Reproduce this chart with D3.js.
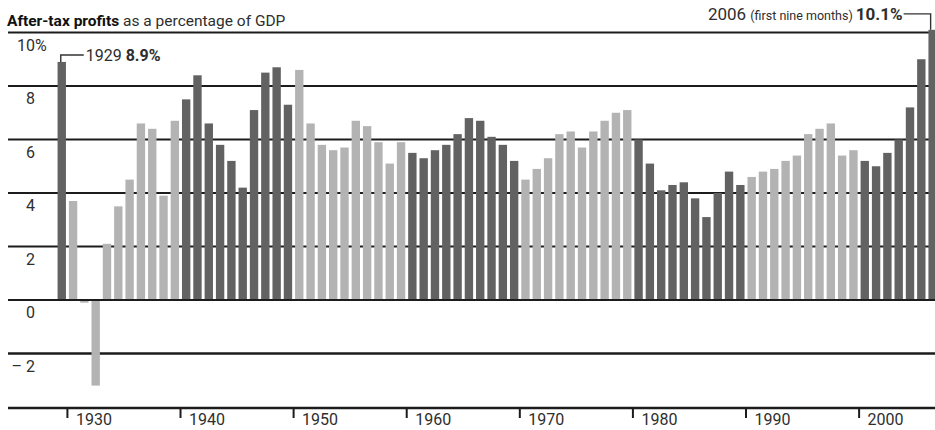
<!DOCTYPE html>
<html>
<head>
<meta charset="utf-8">
<script src="https://cdn.jsdelivr.net/npm/d3@7"></script>
<style>
  body { margin: 0; background: #fff; }
  svg { display: block; font-family: Roboto, "DejaVu Sans", sans-serif; }
</style>
</head>
<body>
<div id="chart"></div>
<script>

//Data: after-tax profits as % of GDP, one value per year 1929-2006
var years = d3.range(1929, 2007);
var profits = [
    8.9, 3.7, -0.1, -3.2, 2.1, 3.5, 4.5, 6.6, 6.4, 3.9, 6.7,
    7.5, 8.4, 6.6, 5.8, 5.2, 4.2, 7.1, 8.5, 8.7, 7.3,
    8.6, 6.6, 5.8, 5.6, 5.7, 6.7, 6.5, 5.9, 5.1, 5.9,
    5.5, 5.3, 5.6, 5.8, 6.2, 6.8, 6.7, 6.1, 5.8, 5.2,
    4.5, 4.9, 5.3, 6.2, 6.3, 5.7, 6.3, 6.7, 7.0, 7.1,
    6.0, 5.1, 4.1, 4.3, 4.4, 3.8, 3.1, 4.0, 4.8, 4.3,
    4.6, 4.8, 4.9, 5.2, 5.4, 6.2, 6.4, 6.6, 5.4, 5.6,
    5.2, 5.0, 5.5, 6.0, 7.2, 9.0, 10.1
];
var yTicks = [-2, 0, 2, 4, 6, 8, 10];
var yTickLabels = ["– 2", "0", "2", "4", "6", "8", "10"];
var xTicks = [1930, 1940, 1950, 1960, 1970, 1980, 1990, 2000];

var data = years.map((y, i) => ({year: y, value: profits[i]}));

//Size
var width = 935, height = 430;
var lineLeft = 8;
var axisY = 408;

var darkColor = "#626262", lightColor = "#b3b3b3", lineColor = "#1c1c1c", textColor = "#2e2e2e";

var svg = d3.select("#chart")
    .append("svg")
    .attr("width", width)
    .attr("height", height);

svg.append("rect")
    .attr("width", width)
    .attr("height", height)
    .attr("fill", "#fff");

//Scales
var step = 11.31;
var xScale = d3.scaleBand()
    .domain(years)
    .range([56.1, 56.1 + years.length * step])
    .paddingInner(0.26)
    .paddingOuter(0.13);

var yScale = d3.scaleLinear()
    .domain([-2, 10])
    .range([353.5, 32.5]);

var gap = (xScale.step() - xScale.bandwidth()) / 2;

//Gridlines (behind bars)
var grid = svg.append("g").attr("class", "grid");

grid.selectAll("line")
    .data(yTicks)
    .enter()
    .append("line")
        .attr("x1", lineLeft)
        .attr("x2", width)
        .attr("y1", d => yScale(d))
        .attr("y2", d => yScale(d))
        .attr("stroke", lineColor)
        .attr("stroke-width", d => d == -2 ? 2.4 : 2);

//Bars
svg.append("g")
    .attr("class", "bars")
    .selectAll("rect")
    .data(data)
    .enter()
    .append("rect")
        .attr("x", d => xScale(d.year))
        .attr("y", d => yScale(Math.max(0, d.value)))
        .attr("width", xScale.bandwidth())
        .attr("height", d => Math.abs(yScale(d.value) - yScale(0)))
        .attr("fill", d => Math.floor(d.year / 10) % 2 == 0 ? darkColor : lightColor);

//Zero line on top of bar bottoms
svg.append("line")
    .attr("x1", lineLeft)
    .attr("x2", width)
    .attr("y1", yScale(0))
    .attr("y2", yScale(0))
    .attr("stroke", lineColor)
    .attr("stroke-width", 2);

//Y labels
var yLabels = svg.append("g").attr("class", "yLabels");

yLabels.selectAll("text")
    .data(yTicks)
    .enter()
    .append("text")
        .attr("x", 35)
        .attr("y", d => yScale(d) + 18)
        .attr("text-anchor", "end")
        .text((d, i) => yTickLabels[i])
            .style("font-size", "16px")
            .style("fill", textColor);

yLabels.append("text")
    .attr("x", 35)
    .attr("y", yScale(10) + 18)
    .text("%")
        .style("font-size", "16px")
        .style("fill", textColor);

//Bottom axis
svg.append("line")
    .attr("x1", lineLeft)
    .attr("x2", width)
    .attr("y1", axisY)
    .attr("y2", axisY)
    .attr("stroke", lineColor)
    .attr("stroke-width", 2.4);

var xAxis = svg.append("g").attr("class", "xAxis");

xAxis.selectAll("line")
    .data(xTicks)
    .enter()
    .append("line")
        .attr("x1", d => xScale(d) - gap)
        .attr("x2", d => xScale(d) - gap)
        .attr("y1", axisY)
        .attr("y2", axisY + 10)
        .attr("stroke", lineColor)
        .attr("stroke-width", 2);

xAxis.selectAll("text")
    .data(xTicks)
    .enter()
    .append("text")
        .attr("x", d => xScale(d) - gap + 8.5)
        .attr("y", 425)
        .text(d => d)
            .style("font-size", "16px")
            .style("fill", textColor);

//Title
var title = svg.append("text")
    .attr("x", 7)
    .attr("y", 26)
    .style("font-size", "15.5px")
    .style("fill", textColor);

title.append("tspan")
    .text("After-tax profits")
    .style("font-weight", "bold")
    .style("fill", "#111");

title.append("tspan")
    .text(" as a percentage of GDP");

//Annotation 1929
var first = data[0];
var fx = xScale(first.year) + xScale.bandwidth() / 2 - 1;
var fy = yScale(first.value);

svg.append("path")
    .attr("d", `M${fx},${fy} V${fy - 7} H${fx + 23}`)
    .attr("fill", "none")
    .attr("stroke", "#333")
    .attr("stroke-width", 1.4);

var firstLabel = svg.append("text")
    .attr("x", fx + 25)
    .attr("y", fy - 1)
    .style("font-size", "16px")
    .style("fill", textColor);

firstLabel.append("tspan").text("1929 ");
firstLabel.append("tspan").text(first.value.toFixed(1) + "%").style("font-weight", "bold");

//Annotation 2006
var last = data[data.length - 1];
var lx = xScale(last.year) + xScale.bandwidth() / 2 - 2;
var ly = yScale(last.value);

svg.append("path")
    .attr("d", `M${lx - 27},${ly - 16} H${lx} V${ly}`)
    .attr("fill", "none")
    .attr("stroke", "#333")
    .attr("stroke-width", 1.4);

var lastLabel = svg.append("text")
    .attr("x", lx - 28)
    .attr("y", ly - 10)
    .attr("text-anchor", "end")
    .style("font-size", "17px")
    .style("fill", textColor);

lastLabel.append("tspan").text("2006 ");
lastLabel.append("tspan").text("(first nine months) ").style("font-size", "12.5px");
lastLabel.append("tspan").text(last.value.toFixed(1) + "%").style("font-weight", "bold");

</script>
</body>
</html>
